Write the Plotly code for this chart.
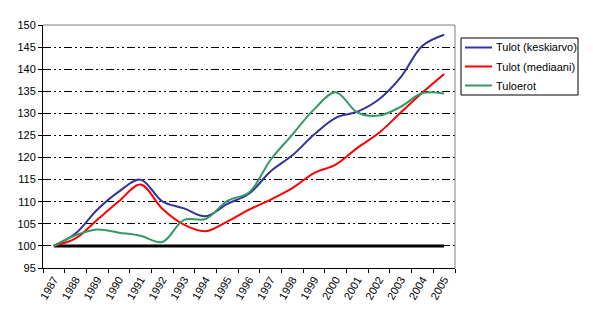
import plotly.graph_objects as go

# Yearly index values (1987 = 100)
years = [str(y) for y in range(1987, 2006)]
tulot_keskiarvo = [100, 102.8, 108.2, 112.3, 115.0, 110.1, 108.5, 106.7, 109.5, 111.8,
                   116.9, 120.5, 125.2, 129.0, 130.4, 133.2, 138.2, 145.3, 147.8]
tulot_mediaani = [100, 101.7, 105.9, 110.1, 113.9, 108.4, 104.8, 103.3, 105.5, 108.2,
                  110.5, 113.1, 116.5, 118.4, 122.2, 125.6, 130.2, 134.7, 138.9]
tuloerot = [100, 102.4, 103.7, 103.0, 102.3, 100.9, 105.9, 106.1, 110.2, 112.1,
            119.5, 125.2, 130.9, 134.8, 130.2, 129.5, 131.5, 134.6, 134.5]
perustaso = [100] * len(years)

series = [
    ("Tulot (keskiarvo)", tulot_keskiarvo, "#333399"),
    ("Tulot (mediaani)", tulot_mediaani, "#FF0000"),
    ("Tuloerot", tuloerot, "#339966"),
]

W, H = 593, 325
L, R, T, B = 43, 138, 25, 57
PW, PH = W - L - R, H - T - B


def px(x):
    return (x - L) / PW


def py(y):
    return (H - B - y) / PH


fig = go.Figure()

# Base level line at 100
fig.add_trace(go.Scatter(
    x=years, y=perustaso, mode="lines", showlegend=False,
    line=dict(color="black", width=3), hoverinfo="skip",
))

for name, vals, color in series:
    fig.add_trace(go.Scatter(
        x=years, y=vals, name=name, mode="lines", showlegend=False,
        line=dict(color=color, width=2, shape="spline", smoothing=1.0),
    ))

font = dict(family="Liberation Sans, Arial, sans-serif", size=11, color="black")

# Plot-area frame (top and right) plus a boxed legend to the right
shapes = [
    dict(type="line", xref="paper", yref="paper", x0=0, x1=1, y0=1, y1=1,
         line=dict(color="#808080", width=1)),
    dict(type="line", xref="paper", yref="paper", x0=1, x1=1, y0=0, y1=1,
         line=dict(color="#808080", width=1)),
    dict(type="rect", xref="paper", yref="paper",
         x0=px(461), x1=px(578), y0=py(95), y1=py(38),
         line=dict(color="black", width=1), fillcolor="white"),
]
annotations = []
row_y = [47.5, 66.5, 85.5]
for (name, _, color), yy in zip(series, row_y):
    shapes.append(dict(type="line", xref="paper", yref="paper",
                       x0=px(465), x1=px(492), y0=py(yy), y1=py(yy),
                       line=dict(color=color, width=2)))
    annotations.append(dict(xref="paper", yref="paper", x=px(494), y=py(yy),
                            xanchor="left", yanchor="middle", text=name,
                            showarrow=False, font=font))

fig.update_layout(
    width=W, height=H,
    margin=dict(l=L, r=R, t=T, b=B),
    paper_bgcolor="white", plot_bgcolor="white",
    font=font,
    showlegend=False,
    xaxis=dict(
        type="category", range=[-0.5, 18.5],
        tickson="boundaries", ticks="outside", ticklen=4, tickcolor="black",
        showline=True, linecolor="black", linewidth=1,
        showgrid=False, tickangle=-60, tickfont=font,
    ),
    yaxis=dict(
        range=[95, 150], dtick=5, tick0=95,
        ticks="outside", ticklen=4, tickcolor="black",
        showline=True, linecolor="black", linewidth=1,
        showgrid=True, gridcolor="black", gridwidth=1,
        griddash="8px,3px,2px,3px,2px,3px",
        zeroline=False, tickfont=font,
    ),
    shapes=shapes,
    annotations=annotations,
)

fig.write_html("out.html")
